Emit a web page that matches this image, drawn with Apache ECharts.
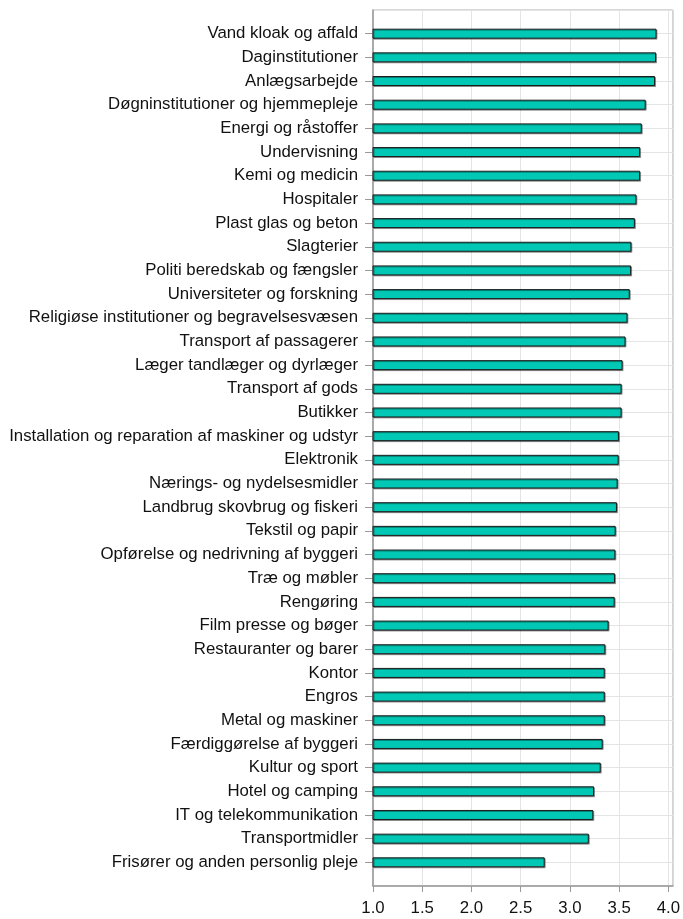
<!DOCTYPE html>
<html>
<head>
<meta charset="utf-8">
<script src="https://cdn.jsdelivr.net/npm/echarts@6/dist/echarts.min.js"></script>
<style>
html,body{margin:0;padding:0;background:#fff;}
#chart{width:683px;height:919px;}
</style>
</head>
<body>
<div id="chart"></div>
<script>
const categories = [
  "Vand kloak og affald",
  "Daginstitutioner",
  "Anlægsarbejde",
  "Døgninstitutioner og hjemmepleje",
  "Energi og råstoffer",
  "Undervisning",
  "Kemi og medicin",
  "Hospitaler",
  "Plast glas og beton",
  "Slagterier",
  "Politi beredskab og fængsler",
  "Universiteter og forskning",
  "Religiøse institutioner og begravelsesvæsen",
  "Transport af passagerer",
  "Læger tandlæger og dyrlæger",
  "Transport af gods",
  "Butikker",
  "Installation og reparation af maskiner og udstyr",
  "Elektronik",
  "Nærings- og nydelsesmidler",
  "Landbrug skovbrug og fiskeri",
  "Tekstil og papir",
  "Opførelse og nedrivning af byggeri",
  "Træ og møbler",
  "Rengøring",
  "Film presse og bøger",
  "Restauranter og barer",
  "Kontor",
  "Engros",
  "Metal og maskiner",
  "Færdiggørelse af byggeri",
  "Kultur og sport",
  "Hotel og camping",
  "IT og telekommunikation",
  "Transportmidler",
  "Frisører og anden personlig pleje"
];
const values = [
  3.88, 3.875, 3.865, 3.77, 3.73, 3.713, 3.713, 3.676,
  3.66, 3.625, 3.622, 3.608, 3.585, 3.565, 3.535, 3.525,
  3.525, 3.498, 3.495, 3.485, 3.478, 3.465, 3.462, 3.458,
  3.455, 3.393, 3.36, 3.354, 3.354, 3.354, 3.333, 3.313,
  3.245, 3.238, 3.192, 2.744
];
const xTickValues = [1.0, 1.5, 2.0, 2.5, 3.0, 3.5, 4.0];
const xTicks = ["1.0","1.5","2.0","2.5","3.0","3.5","4.0"];

const axisCats = [""].concat(categories, [""]);
const axisVals = ["-"].concat(values, ["-"]);
const nCats = axisCats.length;

const chart = echarts.init(document.getElementById('chart'), null, {renderer: 'canvas'});
chart.setOption({
  animation: false,
  backgroundColor: '#fff',
  grid: {
    left: 373, right: 9, top: 10, bottom: 33,
    show: true, borderColor: '#b0b0b0', borderWidth: 1, backgroundColor: 'transparent'
  },
  xAxis: {
    type: 'value',
    min: 1.0,
    max: 4.047,
    interval: 0.5,
    axisLine: {show: true, onZero: false, lineStyle: {color: '#999', width: 1.5}},
    axisTick: {show: true, length: 6, lineStyle: {color: '#999'}, customValues: xTickValues},
    axisLabel: {
      color: '#111', fontSize: 16.8, fontFamily: 'Liberation Sans, Arial, sans-serif', margin: 14,
      customValues: xTickValues,
      formatter: function (v) {
        const idx = xTickValues.findIndex(function (t) { return Math.abs(t - v) < 1e-6; });
        return idx >= 0 ? xTicks[idx] : '';
      }
    },
    splitLine: {show: true, lineStyle: {color: '#e4e4e4', width: 1}}
  },
  yAxis: {
    type: 'category',
    data: axisCats,
    inverse: true,
    boundaryGap: false,
    axisLine: {show: true, lineStyle: {color: '#999', width: 1.5}},
    axisTick: {
      show: true, length: 8, lineStyle: {color: '#999'},
      interval: function (i) { return i > 0 && i < nCats - 1; }
    },
    axisLabel: {
      color: '#111', fontSize: 16.8, fontFamily: 'Liberation Sans, Arial, sans-serif',
      margin: 15, interval: 0
    },
    splitLine: {show: true, lineStyle: {color: '#e4e4e4', width: 1}}
  },
  series: [{
    type: 'bar',
    data: axisVals,
    barWidth: 10,
    itemStyle: {
      color: '#00c8b4',
      borderColor: '#1a1a1a',
      borderWidth: 1,
      shadowColor: 'rgba(0,0,0,0.35)',
      shadowOffsetX: 1,
      shadowOffsetY: 1,
      shadowBlur: 0
    },
    silent: true
  }]
});
</script>
</body>
</html>
